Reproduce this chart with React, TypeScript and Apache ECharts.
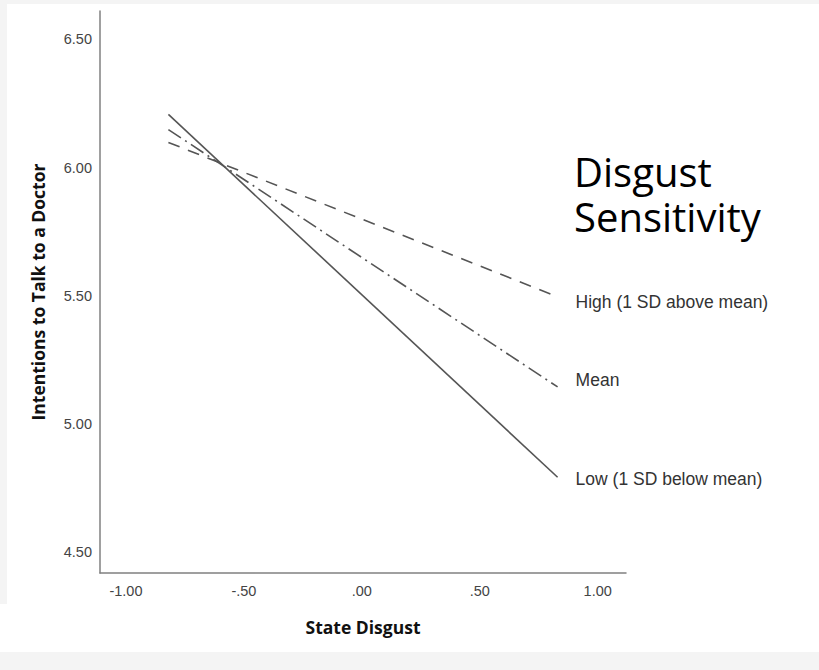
import React, { useEffect, useRef } from "react";
import * as echarts from "echarts";

const xEnds = [-0.82, 0.83];
const seriesNames = ["High (1 SD above mean)", "Mean", "Low (1 SD below mean)"];
const highValues = [6.098, 5.496];
const meanValues = [6.148, 5.145];
const lowValues = [6.207, 4.793];
const xTicks = [-1, -0.5, 0, 0.5, 1];
const yTicks = [4.5, 5.0, 5.5, 6.0, 6.5];
const legendTitle = ["Disgust", "Sensitivity"];

const fmtX = (v: number) => v.toFixed(2).replace(/^(-?)0\./, "$1.");
const fmtY = (v: number) => v.toFixed(2);

export default function App() {
  const ref = useRef<HTMLDivElement>(null);
  useEffect(() => {
    document.body.style.margin = "0";
    const chart = echarts.init(ref.current!, null, { renderer: "svg" });
    const mk = (vals: number[]) => xEnds.map((x, i) => [x, vals[i]]);
    const lineColor = "#555555";
    const labelStyle = (dy: number) => ({
      show: true,
      formatter: "{a}",
      distance: 18,
      offset: [0, dy],
      color: "#333333",
      fontFamily: "'Liberation Sans', Arial, sans-serif",
      fontSize: 17.5,
    });
    chart.setOption({
      animation: false,
      backgroundColor: "#f4f4f4",
      graphic: [
        { type: "rect", z: -10, shape: { x: 7, y: 4, width: 812, height: 648 }, style: { fill: "#ffffff" } },
        { type: "rect", z: -10, shape: { x: 0, y: 604, width: 8, height: 48 }, style: { fill: "#ffffff" } },
        {
          type: "text", left: 574, top: 149, z: 10,
          style: {
            text: legendTitle.join("\n"),
            font: "40px 'Open Sans', sans-serif",
            lineHeight: 45,
            fill: "#000000",
          },
        },
      ],
      grid: { left: 100, top: 11, right: 193, bottom: 97 },
      xAxis: {
        type: "value",
        min: -1.11,
        max: 1.12,
        name: "State Disgust",
        nameLocation: "middle",
        nameGap: 45,
        nameTextStyle: { fontFamily: "'Open Sans', sans-serif", fontWeight: "bold", fontSize: 17.5, color: "#111" },
        axisLine: { show: true, onZero: false, lineStyle: { color: "#808080", width: 1.5 } },
        axisTick: { show: false },
        splitLine: { show: false },
        axisLabel: {
          customValues: xTicks,
          formatter: fmtX,
          margin: 10,
          fontFamily: "'Liberation Sans', Arial, sans-serif",
          fontSize: 14.5,
          color: "#444444",
        },
      },
      yAxis: {
        type: "value",
        min: 4.42,
        max: 6.61,
        name: "Intentions to Talk to a Doctor",
        nameLocation: "middle",
        nameGap: 53,
        nameTextStyle: { fontFamily: "'Open Sans', sans-serif", fontWeight: "bold", fontSize: 17.5, color: "#111" },
        axisLine: { show: true, onZero: false, lineStyle: { color: "#808080", width: 1.5 } },
        axisTick: { show: false },
        splitLine: { show: false },
        axisLabel: {
          customValues: yTicks,
          formatter: fmtY,
          margin: 8,
          fontFamily: "'Liberation Sans', Arial, sans-serif",
          fontSize: 14.5,
          color: "#444444",
        },
      },
      series: [
        {
          name: seriesNames[0], type: "line", data: mk(highValues), showSymbol: false, symbol: "none",
          lineStyle: { color: lineColor, width: 1.6, type: [12, 9] },
          endLabel: labelStyle(5),
        },
        {
          name: seriesNames[1], type: "line", data: mk(meanValues), showSymbol: false, symbol: "none",
          lineStyle: { color: lineColor, width: 1.6, type: [15, 5, 2, 5] },
          endLabel: labelStyle(-7),
        },
        {
          name: seriesNames[2], type: "line", data: mk(lowValues), showSymbol: false, symbol: "none",
          lineStyle: { color: lineColor, width: 1.6, type: "solid" },
          endLabel: labelStyle(2),
        },
      ],
    });
    return () => chart.dispose();
  }, []);
  return (
    <div style={{ width: 819, height: 670, position: "relative", background: "#f4f4f4" }}>
      <div ref={ref} style={{ width: 819, height: 670 }} />
    </div>
  );
}
